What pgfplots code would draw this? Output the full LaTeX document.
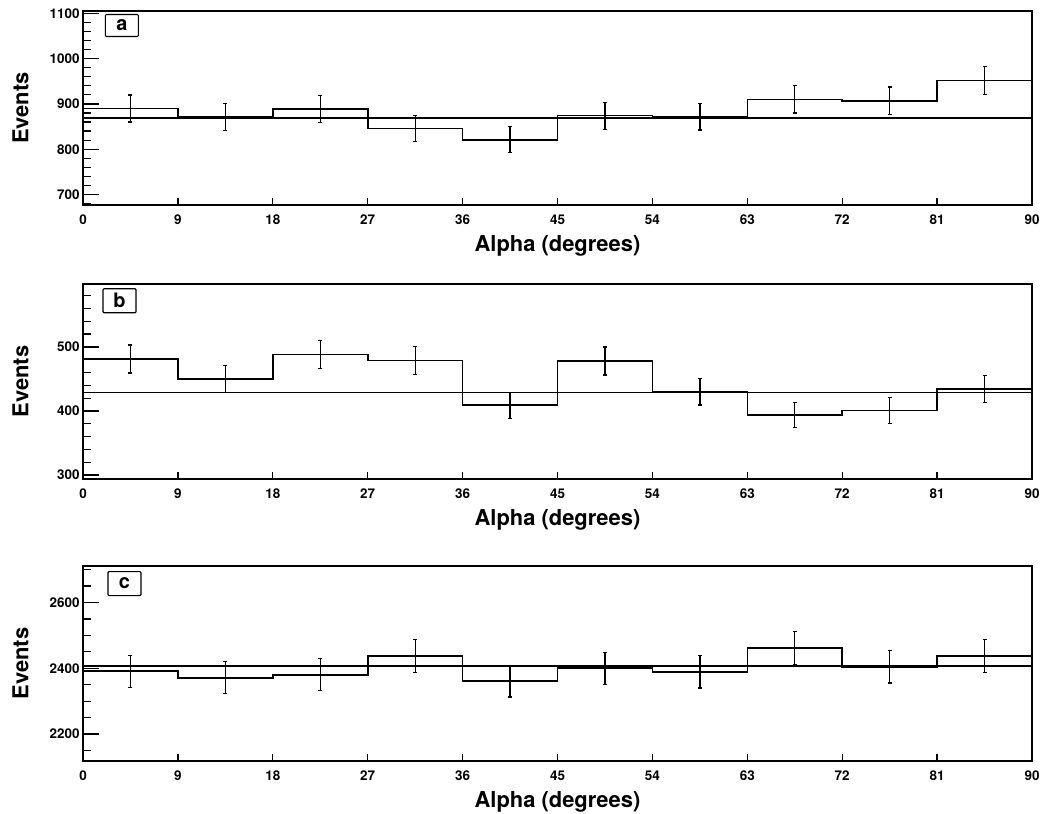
\documentclass[border=0pt]{standalone}
\usepackage{fontspec}
\setmainfont{TeX Gyre Heros}
\usepackage{pgfplots}
\usepackage{pgfplotstable}
\pgfplotsset{compat=1.18}

\pgfplotstableread{
lo y e
0 890 29.8
9 871 29.5
18 889 29.8
27 846 29.1
36 821 28.7
45 874 29.6
54 872 29.5
63 910 30.2
72 907 30.1
81 952 30.9
90 952 0
}\dataA
\pgfplotstableread{
lo y e
0 481 21.9
9 450 21.2
18 488 22.1
27 479 21.9
36 409 20.2
45 478 21.9
54 430 20.7
63 394 19.8
72 401 20.0
81 434 20.8
90 434 0
}\dataB
\pgfplotstableread{
lo y e
0 2391 48.9
9 2371 48.7
18 2380 48.8
27 2437 49.4
36 2361 48.6
45 2400 49.0
54 2389 48.9
63 2461 49.6
72 2404 49.0
81 2437 49.4
90 2437 0
}\dataC

\pgfplotsset{rootpanel/.style={
  scale only axis, width=949bp,
  xmin=0, xmax=90, xtick={0,9,...,90},
  axis line style={line width=1.5bp},
  tick align=inside, xtick pos=bottom, ytick pos=left,
  major tick length=16bp, minor tick length=8bp,
  xtick style={/pgfplots/major tick length=7bp, line width=1.3bp, black},
  ytick style={line width=1.3bp, black},
  minor y tick style={line width=1.3bp, black},
  tick label style={font=\fontsize{13.5}{13.5}\selectfont\bfseries},
  xticklabel style={yshift=-6bp},
  /pgf/number format/assume math mode=true,
  /pgf/number format/1000 sep={},
  xlabel={Alpha (degrees)}, ylabel={Events},
  label style={font=\fontsize{22}{22}\selectfont\bfseries},
  xlabel style={at={(axis description cs:0.5,-0.211)}, anchor=center},
  ylabel style={at={(axis description cs:-0.066,0.5)}, anchor=center},
  clip=false,
}}
\pgfplotsset{
  hist/.style={const plot mark left, mark=none, black, line width=1.6bp},
  errs/.style={skip coords between index={10}{11}, draw=none, mark=none, forget plot,
    error bars/.cd, y dir=both, y explicit, error mark=|,
    error mark options={black, mark size=2bp, line width=1.2bp},
    error bar style={draw=black, solid, line width=1.3bp}},
  fitline/.style={black, line width=1.1bp, mark=none},
}
\tikzset{
  tag/.style={draw=black, line width=1.1bp, fill=white, inner sep=0pt,
    rounded corners=1bp, minimum width=33bp, minimum height=22bp,
    font=\fontsize{20}{20}\selectfont\bfseries},
}

\begin{document}
\begin{tikzpicture}
\useasboundingbox (0,0) rectangle (1062bp,814bp);

% panel a
\begin{axis}[rootpanel, at={(83bp,609bp)}, anchor=south west, height=194bp,
  ymin=677, ymax=1105, ytick={700,800,...,1100}, minor ytick={680,720,740,760,780,820,840,860,880,920,940,960,980,1020,1040,1060,1080}]
\addplot[fitline] coordinates {(0,869) (90,869)};
\addplot[hist] table[x=lo, y=y] {\dataA};
\addplot[errs] table[x expr=\thisrow{lo}+4.5, y=y, y error=e] {\dataA};
\node[tag] at (axis description cs:0.041,0.925) {a};
\end{axis}

% panel b
\begin{axis}[rootpanel, at={(83bp,335bp)}, anchor=south west, height=195bp,
  ymin=294, ymax=598, ytick={300,400,500}, minor ytick={320,340,360,380,420,440,460,480,520,540,560,580}]
\addplot[fitline] coordinates {(0,429.5) (90,429.5)};
\addplot[hist] table[x=lo, y=y] {\dataB};
\addplot[errs] table[x expr=\thisrow{lo}+4.5, y=y, y error=e] {\dataB};
\node[tag, minimum height=24bp] at (axis description cs:0.0385,0.914) {b};
\end{axis}

% panel c
\begin{axis}[rootpanel, at={(83bp,53bp)}, anchor=south west, height=195bp,
  ymin=2118, ymax=2711, ytick={2200,2400,2600}, minor ytick={2150,2250,2300,2350,2450,2500,2550,2650,2700}]
\addplot[fitline] coordinates {(0,2407) (90,2407)};
\addplot[hist] table[x=lo, y=y] {\dataC};
\addplot[errs] table[x expr=\thisrow{lo}+4.5, y=y, y error=e] {\dataC};
\node[tag, minimum height=24bp] at (axis description cs:0.0437,0.91) {c};
\end{axis}
\end{tikzpicture}
\end{document}
